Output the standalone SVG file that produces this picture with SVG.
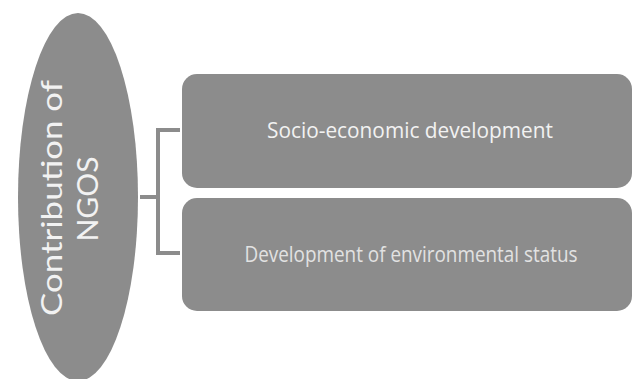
<svg xmlns="http://www.w3.org/2000/svg" width="632" height="379" viewBox="0 0 632 379">
<style>
.shape{fill:#8c8c8c;}
.conn{fill:none;stroke:#8c8c8c;stroke-width:4;}
.oval{font-family:Lato,"Open Sans",sans-serif;font-weight:400;font-size:28px;fill:#f2f2f2;text-anchor:middle;}
.t1{font-family:"Open Sans","Liberation Sans",sans-serif;font-size:22px;fill:#f2f2f2;text-anchor:middle;}
.t2{font-family:"Open Sans","Liberation Sans",sans-serif;font-weight:400;font-size:21px;fill:#e2e2e2;text-anchor:middle;}
</style>
<rect width="632" height="379" fill="#ffffff"/>
<g id="connectors">
<path class="conn" d="M140 197 H158 M180 130 H158 V253 H180"/>
</g>
<g id="node-ngos">
<ellipse class="shape" cx="78" cy="197" rx="60" ry="184"/>
<text class="oval" transform="translate(62 198) rotate(-90)" x="0" y="0" textLength="236" lengthAdjust="spacingAndGlyphs">Contribution of</text>
<text class="oval" transform="translate(98 199) rotate(-90)" x="0" y="0" textLength="85" lengthAdjust="spacingAndGlyphs">NGOS</text>
</g>
<g id="node-socio">
<rect class="shape" x="182" y="74" width="450" height="114" rx="15"/>
<text class="t1" x="410" y="138" textLength="286" lengthAdjust="spacingAndGlyphs">Socio-economic development</text>
</g>
<g id="node-env">
<rect class="shape" x="182" y="198" width="450" height="113" rx="15"/>
<text class="t2" x="411" y="262" textLength="333" lengthAdjust="spacingAndGlyphs">Development of environmental status</text>
</g>
</svg>
